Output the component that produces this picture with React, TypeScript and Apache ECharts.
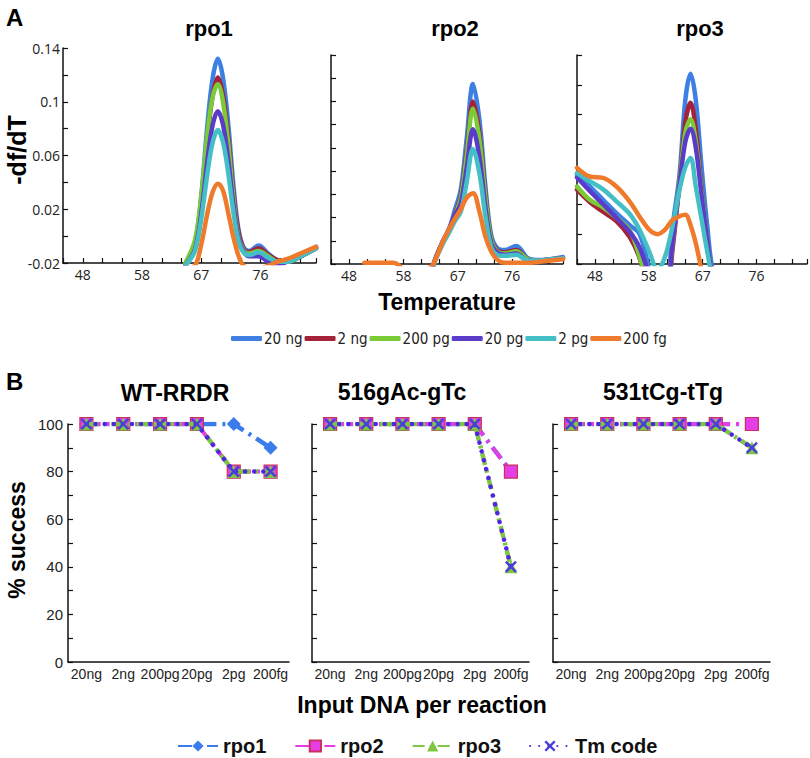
import React, { useEffect, useRef } from "react";
import * as echarts from "echarts";

// ---------- Panel A: melt curves (-df/dT vs temperature) ----------
const seriesNamesA = ["20 ng", "2 ng", "200 pg", "20 pg", "2 pg", "200 fg"];
const xTickValuesA = [48.4, 57.7, 67.0, 76.3];
const xTickLabelsA = ["48", "58", "67", "76"];

// rpo1
const tempsA1 = [64.5, 66, 67, 68, 68.8, 69.6, 70.4, 71.2, 72, 72.8, 73.6, 74.5, 76, 77.5, 79, 80.5, 83, 85];
const rpo1_20ng = [-0.022, -0.006, 0.03, 0.085, 0.118, 0.132, 0.118, 0.085, 0.04, 0.006, -0.008, -0.011, -0.007, -0.013, -0.018, -0.019, -0.014, -0.008];
const rpo1_2ng = [-0.022, -0.007, 0.025, 0.075, 0.105, 0.118, 0.105, 0.075, 0.034, 0.004, -0.009, -0.012, -0.009, -0.014, -0.018, -0.019, -0.014, -0.009];
const rpo1_200pg = [-0.02, -0.003, 0.03, 0.078, 0.104, 0.113, 0.1, 0.07, 0.03, 0.0, -0.01, -0.013, -0.011, -0.015, -0.019, -0.019, -0.014, -0.009];
const rpo1_20pg = [-0.022, -0.01, 0.017, 0.058, 0.083, 0.093, 0.083, 0.058, 0.025, -0.001, -0.011, -0.015, -0.015, -0.019, -0.021, -0.019, -0.014, -0.009];
const rpo1_2pg = [-0.022, -0.011, 0.013, 0.048, 0.07, 0.079, 0.07, 0.048, 0.019, -0.003, -0.012, -0.014, -0.012, -0.016, -0.019, -0.019, -0.014, -0.009];
const rpo1_200fg = [-0.024, -0.022, -0.006, 0.018, 0.033, 0.039, 0.034, 0.018, 0.0, -0.014, -0.022, -0.024, -0.024, -0.022, -0.019, -0.017, -0.012, -0.008];

// rpo2
const tempsA2 = [51, 56, 59, 62.5, 63, 64.5, 65.5, 66.5, 67.5, 68.5, 69.6, 70.7, 71.7, 72.7, 73.7, 75, 77, 79, 81, 83, 85];
const rpo2_20ng = [null, null, null, -0.03, -0.018, 0.0, 0.01, 0.0265, 0.044, 0.087, 0.135, 0.104, 0.048, 0.005, -0.006, -0.008, -0.0045, -0.015, -0.0166, -0.0157, -0.014];
const rpo2_2ng = [null, null, null, -0.03, -0.018, 0.0, 0.009, 0.023, 0.038, 0.076, 0.12, 0.092, 0.041, 0.002, -0.008, -0.01, -0.008, -0.016, -0.017, -0.016, -0.015];
const rpo2_200pg = [null, null, null, -0.03, -0.018, 0.0, 0.009, 0.022, 0.036, 0.072, 0.114, 0.087, 0.038, 0.001, -0.009, -0.011, -0.009, -0.016, -0.017, -0.016, -0.015];
const rpo2_20pg = [null, null, null, -0.03, -0.018, 0.0, 0.01, 0.022, 0.032, 0.062, 0.096, 0.072, 0.03, -0.002, -0.01, -0.012, -0.011, -0.017, -0.017, -0.016, -0.015];
const rpo2_2pg = [null, null, null, -0.03, -0.019, -0.002, 0.007, 0.017, 0.025, 0.05, 0.079, 0.058, 0.022, -0.005, -0.012, -0.013, -0.012, -0.017, -0.017, -0.016, -0.015];
const rpo2_200fg = [-0.019, -0.019, -0.03, -0.022, -0.018, 0.0, 0.01, 0.019, 0.027, 0.037, 0.041, 0.025, 0.004, -0.009, -0.016, -0.019, -0.019, -0.019, -0.018, -0.017, -0.016];

// rpo3
const tempsA3 = [45.3, 47.5, 49.8, 52.1, 54.4, 56.1, 57.8, 59.2, 60.5, 61.8, 63, 64, 64.9, 65.8, 66.8, 67.8, 68.8, 71];
const rpo3_20ng = [0.04, 0.032, 0.023, 0.014, 0.006, 0.0, -0.024, -0.045, -0.045, 0.005, 0.04, 0.09, 0.1075, 0.09, 0.045, 0.005, -0.025, -0.045];
const rpo3_2ng = [0.0297, 0.0215, 0.015, 0.0088, -0.002, -0.016, -0.04, -0.045, -0.045, -0.01, 0.035, 0.075, 0.088, 0.07, 0.03, -0.005, -0.03, -0.045];
const rpo3_200pg = [0.0319, 0.023, 0.018, 0.011, 0.0025, -0.015, -0.038, -0.045, -0.045, -0.005, 0.035, 0.068, 0.077, 0.062, 0.028, -0.005, -0.03, -0.045];
const rpo3_20pg = [0.038, 0.029, 0.02, 0.011, 0.0015, -0.009, -0.028, -0.045, -0.045, -0.005, 0.033, 0.062, 0.0706, 0.058, 0.026, -0.005, -0.03, -0.045];
const rpo3_2pg = [0.0409, 0.0355, 0.03, 0.022, 0.0135, 0.003, -0.012, -0.024, -0.015, 0.0055, 0.0297, 0.045, 0.051, 0.032, 0.01, -0.012, -0.03, -0.045];
const rpo3_200fg = [0.0444, 0.0386, 0.0377, 0.0319, 0.0218, 0.0117, 0.0028, 0.0, 0.003, 0.0095, 0.012, 0.013, 0.006, -0.006, -0.024, -0.04, -0.045, -0.045];

// ---------- Panel B: % success vs input DNA ----------
const categoriesB = ["20ng", "2ng", "200pg", "20pg", "2pg", "200fg"];
const seriesNamesB = ["rpo1", "rpo2", "rpo3", "Tm code"];
const wt_rpo1 = [100, 100, 100, 100, 100, 90];
const wt_rpo2 = [100, 100, 100, 100, 80, 80];
const wt_rpo3 = [100, 100, 100, 100, 80, 80];
const wt_tm = [100, 100, 100, 100, 80, 80];
const m516_rpo1 = [100, 100, 100, 100, 100, 80];
const m516_rpo2 = [100, 100, 100, 100, 100, 80];
const m516_rpo3 = [100, 100, 100, 100, 100, 40];
const m516_tm = [100, 100, 100, 100, 100, 40];
const m531_rpo1 = [100, 100, 100, 100, 100, 100];
const m531_rpo2 = [100, 100, 100, 100, 100, 100];
const m531_rpo3 = [100, 100, 100, 100, 100, 90];
const m531_tm = [100, 100, 100, 100, 100, 90];

const colorsA = ["#3d7fe3", "#a4233b", "#7bcb36", "#5b3bc9", "#45bfc6", "#ef7a2c"];
const SANS = "'Liberation Sans', Arial, sans-serif";
const TICKFONT = "'Open Sans', 'DejaVu Sans', sans-serif";
const NARROW = "'Liberation Sans Narrow', 'DejaVu Sans Condensed', 'Open Sans', sans-serif";
const X_SYMBOL = "path://M1.5,0 L5,3.5 L8.5,0 L10,1.5 L6.5,5 L10,8.5 L8.5,10 L5,6.5 L1.5,10 L0,8.5 L3.5,5 L0,1.5 Z";

export default function App() {
  const ref = useRef<HTMLDivElement>(null);

  useEffect(() => {
    document.body.style.margin = "0";
    const chart = echarts.init(ref.current as HTMLDivElement, undefined, { renderer: "svg", width: 810, height: 758 });

    const panelsA = [
      { temps: tempsA1, vals: [rpo1_20ng, rpo1_2ng, rpo1_200pg, rpo1_20pg, rpo1_2pg, rpo1_200fg] },
      { temps: tempsA2, vals: [rpo2_20ng, rpo2_2ng, rpo2_200pg, rpo2_20pg, rpo2_2pg, rpo2_200fg] },
      { temps: tempsA3, vals: [rpo3_20ng, rpo3_2ng, rpo3_200pg, rpo3_20pg, rpo3_2pg, rpo3_200fg] },
    ];
    const panelsB = [
      [wt_rpo1, wt_rpo2, wt_rpo3, wt_tm],
      [m516_rpo1, m516_rpo2, m516_rpo3, m516_tm],
      [m531_rpo1, m531_rpo2, m531_rpo3, m531_tm],
    ];
    const yMaxA = [0.14, 0.16, 0.12];

    const grids = [
      { left: 63, top: 48, width: 253, height: 215 },
      { left: 331, top: 55, width: 232, height: 209 },
      { left: 577, top: 55, width: 231, height: 209 },
      { left: 68, top: 424, width: 221, height: 238 },
      { left: 312, top: 424, width: 217, height: 238 },
      { left: 553, top: 424, width: 217, height: 238 },
    ];

    const axisLineStyle = { onZero: false, lineStyle: { color: "#111", width: 1.5 } };
    const xAxes: any[] = [];
    const yAxes: any[] = [];
    for (let p = 0; p < 3; p++) {
      xAxes.push({
        type: "value", gridIndex: p, min: 45.3, max: 85, interval: 3.1,
        axisLine: axisLineStyle,
        axisTick: { inside: true, length: 5, lineStyle: { color: "#111", width: 1.2 } },
        splitLine: { show: false },
        axisLabel: {
          margin: 4, fontSize: 14, fontFamily: TICKFONT, color: "#222",
          formatter: (v: number) => {
            const i = xTickValuesA.findIndex((t) => Math.abs(t - v) < 0.05);
            return i >= 0 ? xTickLabelsA[i] : "";
          },
        },
      });
      yAxes.push({
        type: "value", gridIndex: p, min: -0.02, max: yMaxA[p], interval: 0.02,
        axisLine: { show: true, ...axisLineStyle },
        axisTick: { show: true, inside: true, length: 5, lineStyle: { color: "#111", width: 1.2 } },
        splitLine: { show: false },
        axisLabel: {
          show: p === 0, margin: 3, fontSize: 14, fontFamily: TICKFONT, color: "#222",
          formatter: (v: number) => {
            const k = Math.round((v + 0.02) / 0.02);
            return k % 2 === 0 ? String(+v.toFixed(2)) : "";
          },
        },
      });
    }
    for (let q = 0; q < 3; q++) {
      xAxes.push({
        type: "category", gridIndex: 3 + q, data: categoriesB, boundaryGap: true,
        axisLine: axisLineStyle,
        axisTick: { inside: true, alignWithLabel: true, length: 5, lineStyle: { color: "#111", width: 1.2 } },
        axisLabel: { interval: 0, margin: 5, fontSize: 14, fontFamily: SANS, color: "#222" },
      });
      yAxes.push({
        type: "value", gridIndex: 3 + q, min: 0, max: 100, interval: 10,
        axisLine: { show: true, ...axisLineStyle },
        axisTick: { show: true, inside: true, length: 5, lineStyle: { color: "#111", width: 1.2 } },
        splitLine: { show: false },
        axisLabel: {
          show: q === 0, margin: 5, fontSize: 15, fontFamily: SANS, color: "#222",
          formatter: (v: number) => (v % 20 === 0 ? String(v) : ""),
        },
      });
    }

    const series: any[] = [];
    panelsA.forEach((pan, p) => {
      pan.vals.forEach((vals, k) => {
        series.push({
          type: "line", name: seriesNamesA[k], xAxisIndex: p, yAxisIndex: p,
          data: pan.temps.map((t, i) => [t, vals[i]]),
          smooth: 0.35, showSymbol: false, symbol: "none", clip: true,
          lineStyle: { width: 4.5, color: colorsA[k], cap: "round", join: "round" },
          itemStyle: { color: colorsA[k] },
        });
      });
    });

    const styleB = [
      {
        symbol: "diamond", symbolSize: 14,
        itemStyle: { color: "#3a7ceb" },
        lineStyle: { color: "#3a7ceb", width: 4.5, type: [14, 6, 3, 6] },
      },
      {
        symbol: "rect", symbolSize: 13,
        itemStyle: { color: "#e63ee6", borderColor: "#c8305a", borderWidth: 1.2 },
        lineStyle: { color: "#e63ee6", width: 4, type: [14, 6, 3, 6] },
      },
      {
        symbol: "triangle", symbolSize: 13,
        itemStyle: { color: "#7fc742" },
        lineStyle: { color: "#7fc742", width: 4.5, type: [12, 5, 3, 5] },
      },
      {
        symbol: X_SYMBOL, symbolSize: 12,
        itemStyle: { color: "#4a3fd6" },
        lineStyle: { color: "#4e25e6", width: 4.5, type: [0.1, 9], cap: "round" },
      },
    ];
    panelsB.forEach((pan, q) => {
      pan.forEach((vals, s) => {
        series.push({
          type: "line", name: seriesNamesB[s], xAxisIndex: 3 + q, yAxisIndex: 3 + q,
          data: vals, showSymbol: true, ...styleB[s], z: 3 + s,
        });
      });
    });

    const txt = (text: string, x: number, y: number, size: number, extra: any = {}) => ({
      type: "text", x, y,
      style: { text, fontSize: size, fontWeight: "bold", fontFamily: SANS, fill: "#000", textAlign: "center", textVerticalAlign: "middle" },
      ...extra,
    });

    chart.setOption({
      animation: false,
      backgroundColor: "#fff",
      grid: grids.map((g) => ({ ...g, containLabel: false })),
      xAxis: xAxes,
      yAxis: yAxes,
      series,
      legend: [
        {
          data: seriesNamesA, left: 226, top: 326, icon: "roundRect",
          itemWidth: 31, itemHeight: 5, itemGap: 2,
          textStyle: { fontFamily: NARROW, fontSize: 15, color: "#222", padding: [0, 0, 0, -3] },
        },
        {
          data: seriesNamesB, left: 172, top: 731, itemWidth: 40, itemHeight: 14, itemGap: 28,
          textStyle: { fontFamily: SANS, fontWeight: "bold", fontSize: 20, color: "#111" },
        },
      ],
      graphic: [
        { type: "text", x: 6, y: 5, style: { text: "A", fontSize: 24, fontWeight: "bold", fontFamily: SANS, fill: "#000" } },
        txt("rpo1", 209, 28, 22),
        txt("rpo2", 455, 28, 22),
        txt("rpo3", 700, 28, 22),
        txt("-df/dT", 17, 150, 25, { rotation: Math.PI / 2 }),
        txt("Temperature", 447, 302, 23),
        { type: "text", x: 6, y: 369, style: { text: "B", fontSize: 24, fontWeight: "bold", fontFamily: SANS, fill: "#000" } },
        txt("WT-RRDR", 175, 393, 23),
        txt("516gAc-gTc", 402, 392, 23),
        txt("531tCg-tTg", 663, 392, 23),
        txt("% success", 17, 540, 23, { rotation: Math.PI / 2 }),
        txt("Input DNA per reaction", 422, 705, 23),
      ],
    });

    return () => chart.dispose();
  }, []);

  return <div ref={ref} style={{ width: 810, height: 758 }} />;
}
